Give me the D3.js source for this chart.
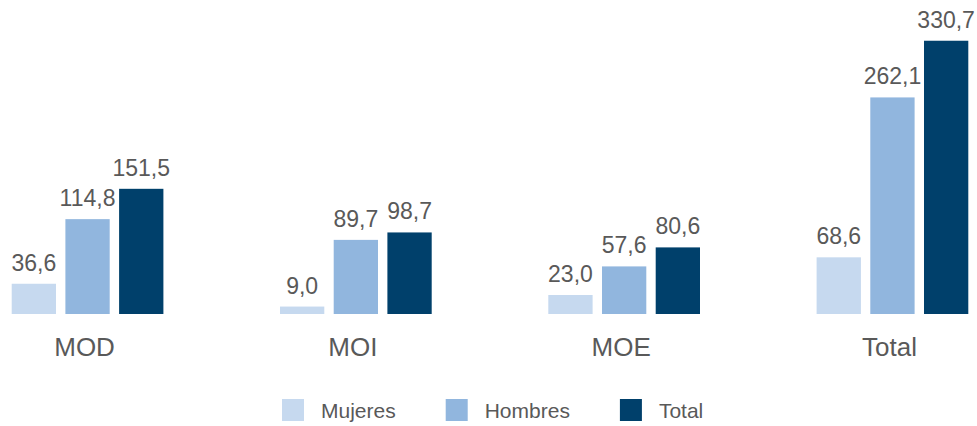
<!DOCTYPE html>
<html>
<head>
<meta charset="utf-8">
<script src="https://cdn.jsdelivr.net/npm/d3@7/dist/d3.min.js"></script>
<style>
  html, body { margin: 0; padding: 0; background: #ffffff; }
  svg { display: block; font-family: "Liberation Sans", Arial, sans-serif; }
</style>
</head>
<body>
<svg id="chart" width="977" height="426"></svg>
<script>
// Categories and series
const categories = ["MOD", "MOI", "MOE", "Total"];
const seriesNames = ["Mujeres", "Hombres", "Total"];
const mujeres = [36.6, 9.0, 23.0, 68.6];
const hombres = [114.8, 89.7, 57.6, 262.1];
const totales = [151.5, 98.7, 80.6, 330.7];
const seriesColors = ["#c6d9ef", "#91b6de", "#00406b"];

const seriesValues = [mujeres, hombres, totales];
const rows = categories.map((c, i) => ({
  category: c,
  values: seriesNames.map((s, j) => ({ series: s, idx: j, value: seriesValues[j][i] }))
}));

const svg = d3.select("#chart");
const textColor = "#595959";
const fmt = v => d3.format(".1f")(v).replace(".", ",");

const x0 = d3.scaleBand().domain(categories).range([11.7, 968.3]).paddingInner(0.4346).paddingOuter(0);
const x1 = d3.scaleBand().domain(seriesNames).range([0, x0.bandwidth()]).paddingInner(0.175).paddingOuter(0);
const y = d3.scaleLinear().domain([0, 380]).range([314, 0]);
const color = d3.scaleOrdinal().domain(seriesNames).range(seriesColors);

const groups = svg.append("g").selectAll("g")
  .data(rows).join("g")
  .attr("transform", d => `translate(${x0(d.category)},0)`);

groups.selectAll("rect")
  .data(d => d.values).join("rect")
  .attr("x", d => x1(d.series))
  .attr("y", d => y(d.value))
  .attr("width", x1.bandwidth())
  .attr("height", d => y(0) - y(d.value))
  .attr("fill", d => color(d.series));

groups.selectAll("text.value")
  .data(d => d.values).join("text")
  .attr("class", "value")
  .attr("x", d => x1(d.series) + x1.bandwidth() / 2)
  .attr("y", d => y(d.value) - 13)
  .attr("text-anchor", "middle")
  .attr("font-size", 23)
  .attr("fill", textColor)
  .text(d => fmt(d.value));

// Category axis labels (no axis line drawn)
const xAxis = d3.axisBottom(x0).tickSize(0).tickPadding(0);
const axisG = svg.append("g").attr("transform", `translate(-3,${y(0)})`).call(xAxis);
axisG.select(".domain").remove();
axisG.selectAll("text")
  .attr("dy", null)
  .attr("y", 42)
  .attr("font-size", 26)
  .attr("font-family", "Liberation Sans, Arial, sans-serif")
  .attr("fill", textColor);

// Legend
const legend = svg.append("g").attr("transform", "translate(282,399)");
let lx = 0;
seriesNames.forEach((s, i) => {
  const item = legend.append("g").attr("transform", `translate(${lx},0)`);
  item.append("rect").attr("width", 22).attr("height", 22).attr("fill", color(s));
  const t = item.append("text")
    .attr("x", 39).attr("y", 19)
    .attr("font-size", 21)
    .attr("fill", textColor)
    .text(s);
  lx += 39 + t.node().getComputedTextLength() + 50;
});
</script>
</body>
</html>
